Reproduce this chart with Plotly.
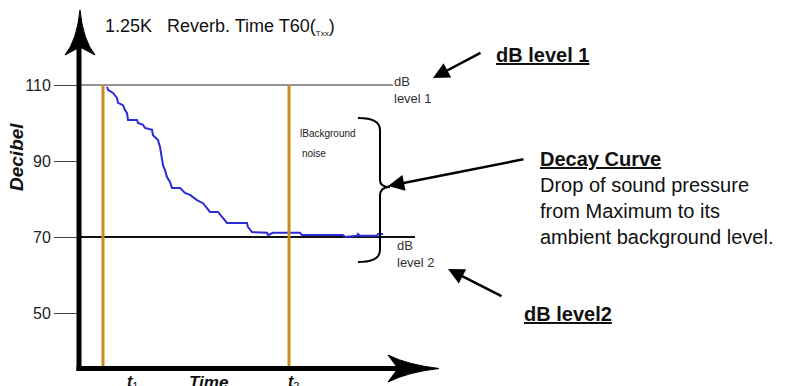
import plotly.graph_objects as go

# ---------------- data ----------------
level_db = [110, 70]                  # dB level 1, dB level 2
level_end_time = [314, 336]           # where each level line stops (time units)
level_small_labels = ["dB<br>level 1", "dB<br>level 2"]
marker_times = [24, 210]              # t1, t2
marker_labels = ["<b><i>t</i></b><sub>1</sub>", "<b><i>t</i></b><sub>2</sub>"]
marker_label_times = [54, 215]

decay_time = [28, 29, 34, 38, 39, 44, 46, 48, 49, 58, 59, 64, 66, 73, 74, 79, 81, 83,
              84, 86, 88, 91, 93, 101, 106, 111, 118, 124, 131, 139, 143, 148, 168,
              169, 173, 188, 189, 194, 221, 223, 264, 266, 278, 279, 281, 298, 299, 304]
decay_db = [109.5, 108.7, 107.9, 106.6, 105.3, 104.7, 103.4, 102.6, 100.8, 100.8, 100.0,
            99.5, 98.7, 98.2, 96.8, 95.5, 93.7, 91.1, 88.9, 87.6, 85.8, 84.5, 82.9, 82.9,
            81.6, 81.1, 79.7, 78.9, 76.6, 76.6, 75.3, 73.7, 73.7, 72.6, 71.3, 71.1, 70.5,
            71.1, 71.1, 70.5, 70.5, 70.0, 70.3, 70.8, 70.3, 70.3, 70.8, 70.8]

ytick_vals = [50, 70, 90, 110]
ytick_text = ["50", "70", "90", "110"]

y_range = [35.53, 129.74]
x_range = [0, 362]

# ---------------- layout geometry ----------------
W, H = 789, 386
L, T, PW, PH = 79, 10, 362, 358
FONT = "Arial, Liberation Sans, sans-serif"
ORANGE = "#C98B1E"
BLUE = "#2B2BD8"


def xp(px):
    return (px - L) / PW


def yp(py):
    return (T + PH - py) / PH


def ppath(points, closed=True):
    s = ""
    for cmd, pts in points:
        s += cmd + " ".join(f"{xp(a):.5f},{yp(b):.5f}" for a, b in pts) + " "
    return s + ("Z" if closed else "")


fig = go.Figure()

# level lines
fig.add_trace(go.Scatter(x=[0, level_end_time[0]], y=[level_db[0]] * 2, mode="lines",
                         line=dict(color="#707070", width=1.6), hoverinfo="skip"))
fig.add_trace(go.Scatter(x=[0, level_end_time[1]], y=[level_db[1]] * 2, mode="lines",
                         line=dict(color="#111111", width=2), hoverinfo="skip"))
# decay curve
fig.add_trace(go.Scatter(x=decay_time, y=decay_db, mode="lines",
                         line=dict(color=BLUE, width=2), hoverinfo="skip"))
# t1 / t2 markers
for t in marker_times:
    fig.add_trace(go.Scatter(x=[t, t], y=[level_db[0], y_range[0]], mode="lines",
                             line=dict(color=ORANGE, width=3), hoverinfo="skip"))

shapes = []
# axes
shapes.append(dict(type="line", xref="paper", yref="paper", x0=xp(79), x1=xp(79),
                   y0=yp(371), y1=yp(40), line=dict(color="black", width=5)))
shapes.append(dict(type="line", xref="paper", yref="paper", x0=xp(76.5), x1=xp(400),
                   y0=yp(368.5), y1=yp(368.5), line=dict(color="black", width=5)))
# arrowheads
shapes.append(dict(type="path", xref="paper", yref="paper", fillcolor="black",
                   line=dict(color="black", width=1),
                   path=ppath([("M", [(80, 10)]), ("Q", [(77, 40), (65, 55)]),
                               ("L", [(80, 47)]), ("L", [(95, 55)]),
                               ("Q", [(83, 40), (80, 10)])])))
shapes.append(dict(type="path", xref="paper", yref="paper", fillcolor="black",
                   line=dict(color="black", width=1),
                   path=ppath([("M", [(439, 368.5)]), ("Q", [(408, 365), (388, 355)]),
                               ("L", [(398, 368.5)]), ("L", [(388, 382)]),
                               ("Q", [(408, 372), (439, 368.5)])])))
# brace
shapes.append(dict(type="path", xref="paper", yref="paper",
                   line=dict(color="black", width=2),
                   path=ppath([("M", [(358, 118)]), ("Q", [(380, 118), (380, 130)]),
                               ("L", [(380, 180)]), ("Q", [(380, 187), (390, 187)]),
                               ("Q", [(380, 187), (380, 196)]), ("L", [(380, 250)]),
                               ("Q", [(380, 262), (358, 262)])], closed=False)))

ann = []


def add_text(text, x, y, size, xanchor="left", yanchor="middle", color="#111", angle=0, align="left"):
    ann.append(dict(text=text, xref="paper", yref="paper", x=xp(x), y=yp(y),
                    xanchor=xanchor, yanchor=yanchor, showarrow=False, textangle=angle,
                    align=align, font=dict(family=FONT, size=size, color=color)))


add_text("1.25K&nbsp;&nbsp;&nbsp;Reverb. Time T60(<sub><span style='font-size:8px'>Txx</span></sub>)",
         103, 27, 18)
add_text("<b><i>Decibel</i></b>", 16, 157, 19, xanchor="center", angle=-90)
add_text(level_small_labels[0], 392, 90, 13, color="#333")
add_text(level_small_labels[1], 395, 254, 13, color="#333")
add_text("lBackground", 298, 133, 10, color="#222")
add_text("noise", 300, 153, 10, color="#222")
add_text("<b><u>dB level 1</u></b>", 494, 55, 20)
add_text("<b><u>Decay Curve</u></b><br>Drop of sound pressure<br>from Maximum to its<br>ambient background level.",
         538, 198, 20)
add_text("<b><u>dB level2</u></b>", 522, 314, 20)
add_text("<b><i>Time</i></b>", 208, 371, 17, xanchor="center", yanchor="top")
for lab, t in zip(marker_labels, marker_label_times):
    ann.append(dict(text=lab, xref="x", yref="paper", x=t, y=yp(371), xanchor="center",
                    yanchor="top", showarrow=False, font=dict(family=FONT, size=16, color="#111")))

# pointer arrows (tip, tail)
for tip, tail in [((433, 78), (482, 52)), ((388, 186), (525, 159)), ((448, 269), (503, 297))]:
    ann.append(dict(text="", xref="paper", yref="paper", x=xp(tip[0]), y=yp(tip[1]),
                    ax=tail[0] - tip[0], ay=tail[1] - tip[1], showarrow=True,
                    arrowhead=2, arrowsize=1.3, arrowwidth=2.5, arrowcolor="black", standoff=0))

fig.update_layout(
    width=W, height=H, margin=dict(l=L, r=W - L - PW, t=T, b=H - T - PH),
    paper_bgcolor="white", plot_bgcolor="white", showlegend=False,
    shapes=shapes, annotations=ann,
    xaxis=dict(range=x_range, showgrid=False, zeroline=False, showline=False,
               showticklabels=False, ticks=""),
    yaxis=dict(range=y_range, showgrid=False, zeroline=False, showline=False,
               tickmode="array", tickvals=ytick_vals, ticktext=ytick_text,
               ticks="outside", ticklen=24, tickwidth=1.3, tickcolor="#444",
               tickfont=dict(family=FONT, size=16, color="#222")),
)

fig.write_html("out.html", config={"displayModeBar": False},
               post_script="document.body.style.margin='0';")
